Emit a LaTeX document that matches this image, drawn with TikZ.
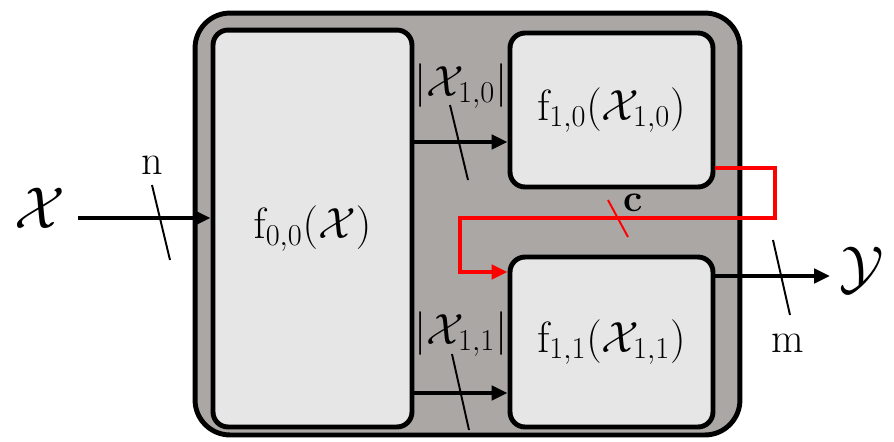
\documentclass[tikz,border=0pt]{standalone}
\usetikzlibrary{arrows.meta}
\definecolor{shellgray}{RGB}{171,167,165}
\definecolor{boxgray}{RGB}{230,230,230}
\newcommand{\bigsym}[1]{\scalebox{1.35}{$\mathcal{#1}$}}
\begin{document}
\begin{tikzpicture}[x=0.02cm,y=-0.02cm,line join=round,
	>={Triangle[length=9pt,width=8pt]},
	shell/.style={draw,line width=2.8pt,fill=shellgray,rounded corners=0.7cm,inner sep=0pt},
	fbox/.style={draw,line width=2.8pt,fill=boxgray,rounded corners=0.3cm,inner sep=0pt,
		font=\fontsize{27}{31}\selectfont},
	flow/.style={->,line width=2.3pt},
	redflow/.style={->,line width=2.3pt,red},
	tick/.style={line width=1.1pt},
	lab/.style={font=\fontsize{24}{28}\selectfont,inner sep=0pt},
	big/.style={font=\fontsize{24.88}{28}\selectfont,inner sep=0pt}]
	\useasboundingbox (0,0) rectangle (894,441);
	\node[shell,minimum width=10.9cm,minimum height=8.44cm] (S) at (467.5,224) {};
	\node[fbox,minimum width=3.98cm,minimum height=7.94cm] (f00) at (312.5,228.5) {$\mathrm{f}_{0,0}(\mathcal{X})$};
	\node[fbox,minimum width=4.06cm,minimum height=3.08cm] (f10) at (611.5,110) {$\mathrm{f}_{1,0}(\mathcal{X}_{1,0})$};
	\node[fbox,minimum width=4.06cm,minimum height=3.4cm] (f11) at (611.5,342) {$\mathrm{f}_{1,1}(\mathcal{X}_{1,1})$};
	\node[big] (X) at (40,208) {\bigsym{X}};
	\node[big] (Y) at (862,270) {\bigsym{Y}};
	\path 
	(78,218) coordinate (in)
	(830,276) coordinate (out)
	(412,142) coordinate (a10)
	(412,393) coordinate (a11)
	;
	% data paths
	\draw[flow] (in)--(in-|f00.west);
	\draw[flow] (a10)--(a10-|f10.west);
	\draw[flow] (a11)--(a11-|f11.west);
	\draw[flow] (f11.east|-out)--(out);
	\draw[redflow,line join=miter] (f10.east|-0,168)--++(60,0)--++(0,50)--(460,218)--(460,272)--(f11.west|-0,272);
	% widths
	\draw[tick] (152,185)--(170,260);
	\draw[tick] (450,105)--(468,180);
	\draw[tick] (452,354)--(469,430);
	\draw[tick] (773,240)--(790,315);
	\draw[tick,red] (608,200)--(628,237);
	\node[lab] (n) at (152,165) {n};
	\node[lab] (m) at (788,343) {m};
	\node[lab,font=\fontsize{22}{26}\selectfont\bfseries] (c) at (633,203) {c};
	\node[lab] (w10) at (461,86) {$|\mathcal{X}_{1,0}|$};
	\node[lab] (w11) at (461,334) {$|\mathcal{X}_{1,1}|$};
\end{tikzpicture}
\end{document}
